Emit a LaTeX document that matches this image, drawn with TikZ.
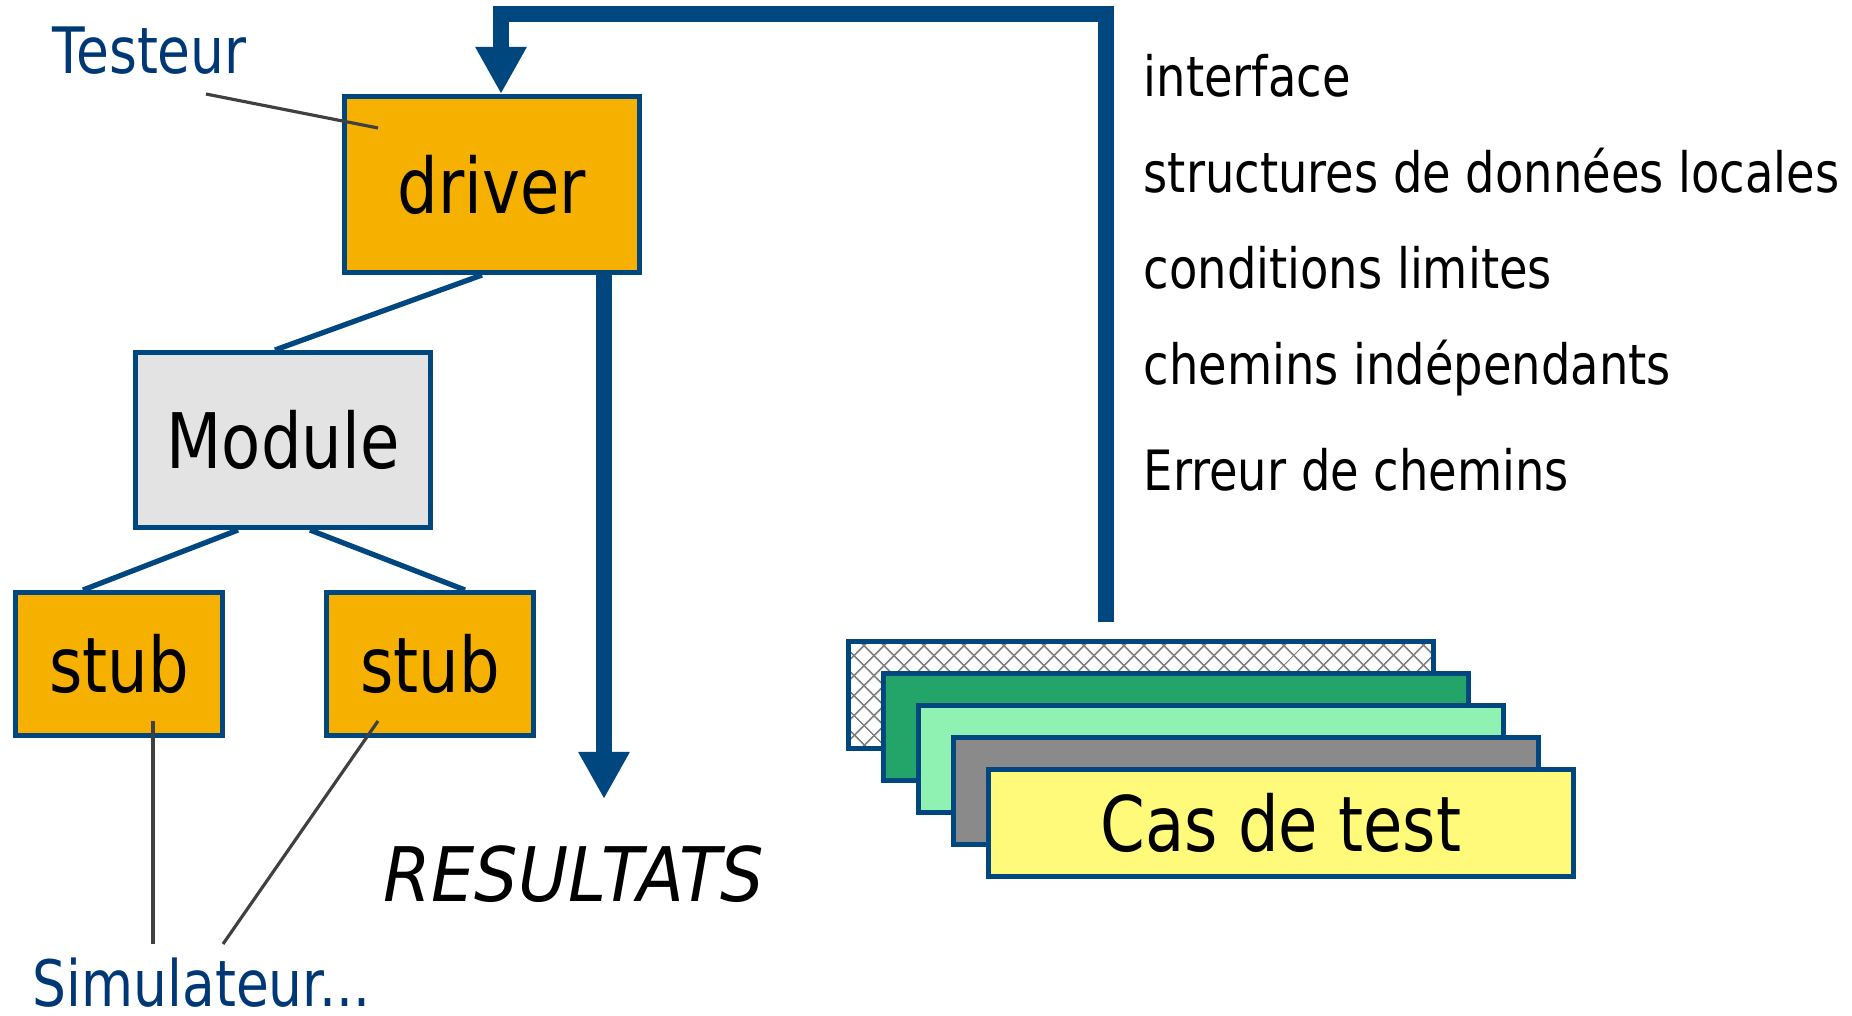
\documentclass[tikz,border=0pt]{standalone}
\usepackage{fontspec}
\setmainfont{DejaVu Sans}[FakeStretch=0.835]
\newfontfamily\resultfont{DejaVu Sans}[FakeStretch=0.91]
\usepackage{xcolor}
\usepackage{tikz}
\usetikzlibrary{arrows.meta}
\usetikzlibrary{patterns.meta}
\usetikzlibrary{calc}

\definecolor{boxblue}{RGB}{0,70,127}
\definecolor{textblue}{RGB}{0,56,117}
\definecolor{driverorange}{RGB}{245,176,0}
\definecolor{modulegray}{RGB}{227,227,227}
\definecolor{leadgray}{RGB}{64,64,64}
\definecolor{cardgreen}{RGB}{35,165,106}
\definecolor{cardmint}{RGB}{144,242,178}
\definecolor{cardgray}{RGB}{138,138,138}
\definecolor{cardyellow}{RGB}{255,250,122}

\begin{document}
\begin{tikzpicture}[x=0.01cm,y=-0.01cm,
  box/.style={draw=boxblue,line width=1.4pt,font=\fontsize{21.8}{26}\selectfont},
  card/.style={draw=boxblue,line width=1.4pt,minimum width=5.85cm,minimum height=1.07cm},
  wire/.style={boxblue,line width=1.5pt},
  flow/.style={boxblue,line width=4.5pt,-{Triangle[width=13.7pt,length=13.4pt]}},
  lead/.style={leadgray,line width=0.9pt},
  who/.style={textblue,inner sep=0pt,font=\fontsize{18.2}{22}\selectfont},
  item/.style={inner sep=0pt,font=\fontsize{15.8}{19}\selectfont}]
\useasboundingbox (0,0) rectangle (1852,1015);

%% driver, module and stubs
\node[box,fill=driverorange,minimum width=2.95cm,minimum height=1.76cm] (driver) at (492,184.5) {driver};
\node[box,fill=modulegray,minimum width=2.95cm,minimum height=1.75cm] (module) at (283,440) {Module};
\node[box,fill=driverorange,minimum width=2.07cm,minimum height=1.43cm] (stubA) at (119,664) {stub};
\node[box,fill=driverorange,minimum width=2.07cm,minimum height=1.43cm] (stubB) at (430,664) {stub};

\draw[wire] ($(driver.south)+(-10,0)$) -- ($(module.north)+(-8,0)$);
\draw[wire] ($(module.south)+(-45,0)$) -- ($(stubA.north)+(-36,0)$);
\draw[wire] ($(module.south)+(27,0)$) -- ($(stubB.north)+(35,0)$);

%% test cases
\node[card,preaction={pattern={Lines[angle=45,distance=4pt,line width=0.5pt]},pattern color=gray},
  pattern={Lines[angle=-45,distance=4pt,line width=0.5pt]},pattern color=gray] (card1) at (1141,695) {};
\foreach \i/\col in {2/cardgreen,3/cardmint,4/cardgray}
  \node[card,fill=\col] (card\i) at ({1141+35*(\i-1)},{695+32*(\i-1)}) {};
\node[card,fill=cardyellow,font=\fontsize{21.8}{26}\selectfont] (card5) at (1281,823) {Cas de test};

%% arrows
\coordinate (cardtop) at (1106,622);
\draw[flow] (cardtop) |- ($(driver.north)+(9,-80)$) -- ($(driver.north)+(9,0)$);
\coordinate (restip) at (604,799);
\draw[flow] (driver.south -| restip) -- (restip);
\node[inner sep=0pt,anchor=base west,font=\resultfont\itshape\fontsize{21.4}{26}\selectfont] (results) at (383,901) {RESULTATS};

%% labels
\node[who,anchor=base west] (testeur) at (52,73) {Testeur};
\coordinate (tstA) at (206,94);
\draw[lead] (tstA) -- ($(driver.north west)+(36,34)$);
\node[who,anchor=base west] (simul) at (32,1006) {Simulateur...};
\coordinate (simA) at (153,944);
\coordinate (simB) at (223,944);
\draw[lead] (simA) -- ($(stubA)+(34,57)$);
\draw[lead] (simB) -- ($(stubB)+(-52,57)$);

\foreach \y/\txt [count=\n] in {97/interface,192/structures de données locales,288/conditions limites,384/chemins indépendants,490/Erreur de chemins}
  \node[item,anchor=base west] (item\n) at (1143,\y) {\txt};
\end{tikzpicture}
\end{document}
